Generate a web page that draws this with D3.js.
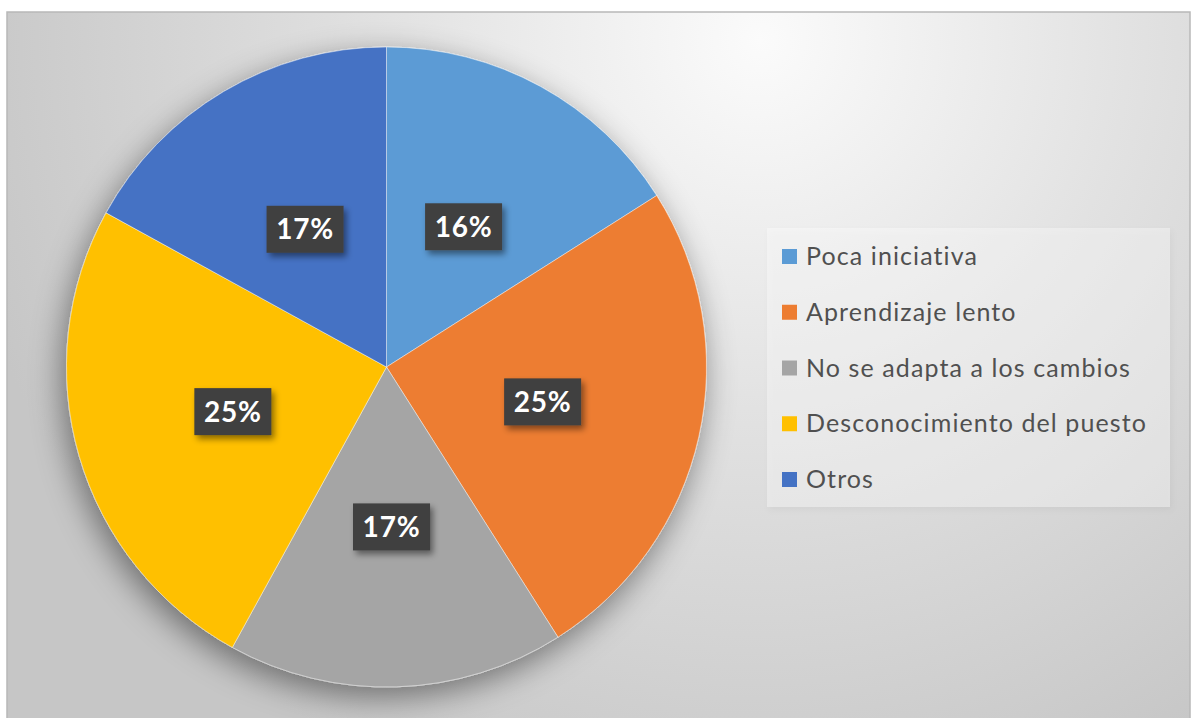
<!DOCTYPE html>
<html>
<head>
<meta charset="utf-8">
<script src="https://cdn.jsdelivr.net/npm/d3@7"></script>
<style>
  html, body { margin: 0; padding: 0; background: #ffffff; }
  svg { display: block; }
</style>
</head>
<body>
<svg id="chart" width="1194" height="718"></svg>
<script>
// Chart data
const categories = ["Poca iniciativa", "Aprendizaje lento", "No se adapta a los cambios", "Desconocimiento del puesto", "Otros"];
const values = [16, 25, 17, 25, 17];
const colors = ["#5B9BD5", "#ED7D31", "#A5A5A5", "#FFC000", "#4472C4"];

const svg = d3.select("#chart");

const defs = svg.append("defs");

// Chart area background: soft radial gradient, light at the top right
const bg = defs.append("radialGradient")
  .attr("id", "bgGrad")
  .attr("gradientUnits", "userSpaceOnUse")
  .attr("cx", 760).attr("cy", 40).attr("r", 820);
bg.append("stop").attr("offset", "0%").attr("stop-color", "#fbfbfb");
bg.append("stop").attr("offset", "45%").attr("stop-color", "#e2e2e2");
bg.append("stop").attr("offset", "100%").attr("stop-color", "#c6c6c6");

// Shadow under the pie
const pieShadow = defs.append("filter").attr("id", "pieShadow")
  .attr("x", "-20%").attr("y", "-20%").attr("width", "140%").attr("height", "140%");
pieShadow.append("feDropShadow")
  .attr("dx", -4).attr("dy", 10).attr("stdDeviation", 16)
  .attr("flood-color", "#000").attr("flood-opacity", 0.45);

// Shadow under the data labels
const lblShadow = defs.append("filter").attr("id", "lblShadow")
  .attr("x", "-30%").attr("y", "-30%").attr("width", "160%").attr("height", "160%");
lblShadow.append("feDropShadow")
  .attr("dx", 3).attr("dy", 4).attr("stdDeviation", 3)
  .attr("flood-color", "#000").attr("flood-opacity", 0.45);

// Shadow under the legend box
const legShadow = defs.append("filter").attr("id", "legShadow")
  .attr("x", "-10%").attr("y", "-10%").attr("width", "120%").attr("height", "120%");
legShadow.append("feDropShadow")
  .attr("dx", 2).attr("dy", 3).attr("stdDeviation", 3)
  .attr("flood-color", "#000").attr("flood-opacity", 0.12);

// Chart frame
const frame = { x: 7, y: 12, w: 1183, h: 720 };
svg.append("rect")
  .attr("x", frame.x).attr("y", frame.y)
  .attr("width", frame.w).attr("height", frame.h)
  .attr("fill", "url(#bgGrad)")
  .attr("stroke", "#b8b8b8").attr("stroke-width", 1.5);

// Pie
const cx = 386.5, cy = 367, R = 320;
const pie = d3.pie().sort(null).value(d => d)(values);
const arc = d3.arc().innerRadius(0).outerRadius(R);
const labelArc = d3.arc().innerRadius(R * 0.5).outerRadius(R * 0.5);

const gPie = svg.append("g").attr("transform", `translate(${cx},${cy})`);

gPie.append("g").attr("filter", "url(#pieShadow)")
  .selectAll("path")
  .data(pie)
  .join("path")
  .attr("d", arc)
  .attr("fill", (d, i) => colors[i])
  .attr("stroke", "rgba(255,255,255,0.45)")
  .attr("stroke-width", 1);

// Data labels
const total = d3.sum(values);
const fmt = v => Math.round(v / total * 100) + "%";
const boxW = 77, boxH = 47;

const lbl = gPie.append("g").selectAll("g")
  .data(pie)
  .join("g")
  .attr("transform", d => {
    const [x, y] = labelArc.centroid(d);
    return `translate(${x},${y})`;
  });

lbl.append("rect")
  .attr("x", -boxW / 2).attr("y", -boxH / 2)
  .attr("width", boxW).attr("height", boxH)
  .attr("fill", "#3f3f3f")
  .attr("filter", "url(#lblShadow)");

lbl.append("text")
  .attr("text-anchor", "middle")
  .attr("dy", "0.36em")
  .attr("font-family", "Lato, 'Open Sans', sans-serif")
  .attr("font-weight", "bold")
  .attr("font-size", 28)
  .attr("letter-spacing", 0.8)
  .attr("fill", "#ffffff")
  .text(d => fmt(d.data));

// Legend
const leg = { x: 767, y: 228, w: 403, h: 279 };
svg.append("rect")
  .attr("x", leg.x).attr("y", leg.y)
  .attr("width", leg.w).attr("height", leg.h)
  .attr("fill", "rgba(255,255,255,0.35)")
  .attr("filter", "url(#legShadow)");

const rowY = d3.scalePoint().domain(categories).range([256, 479]);

const items = svg.append("g").selectAll("g")
  .data(categories)
  .join("g")
  .attr("transform", d => `translate(${leg.x + 15},${rowY(d)})`);

items.append("rect")
  .attr("x", 0).attr("y", -7)
  .attr("width", 15).attr("height", 15)
  .attr("fill", (d, i) => colors[i]);

items.append("text")
  .attr("x", 24)
  .attr("dy", "0.36em")
  .attr("font-family", "Lato, 'Open Sans', sans-serif")
  .attr("font-size", 25)
  .attr("letter-spacing", 1.1)
  .attr("fill", "#505050")
  .text(d => d);
</script>
</body>
</html>
